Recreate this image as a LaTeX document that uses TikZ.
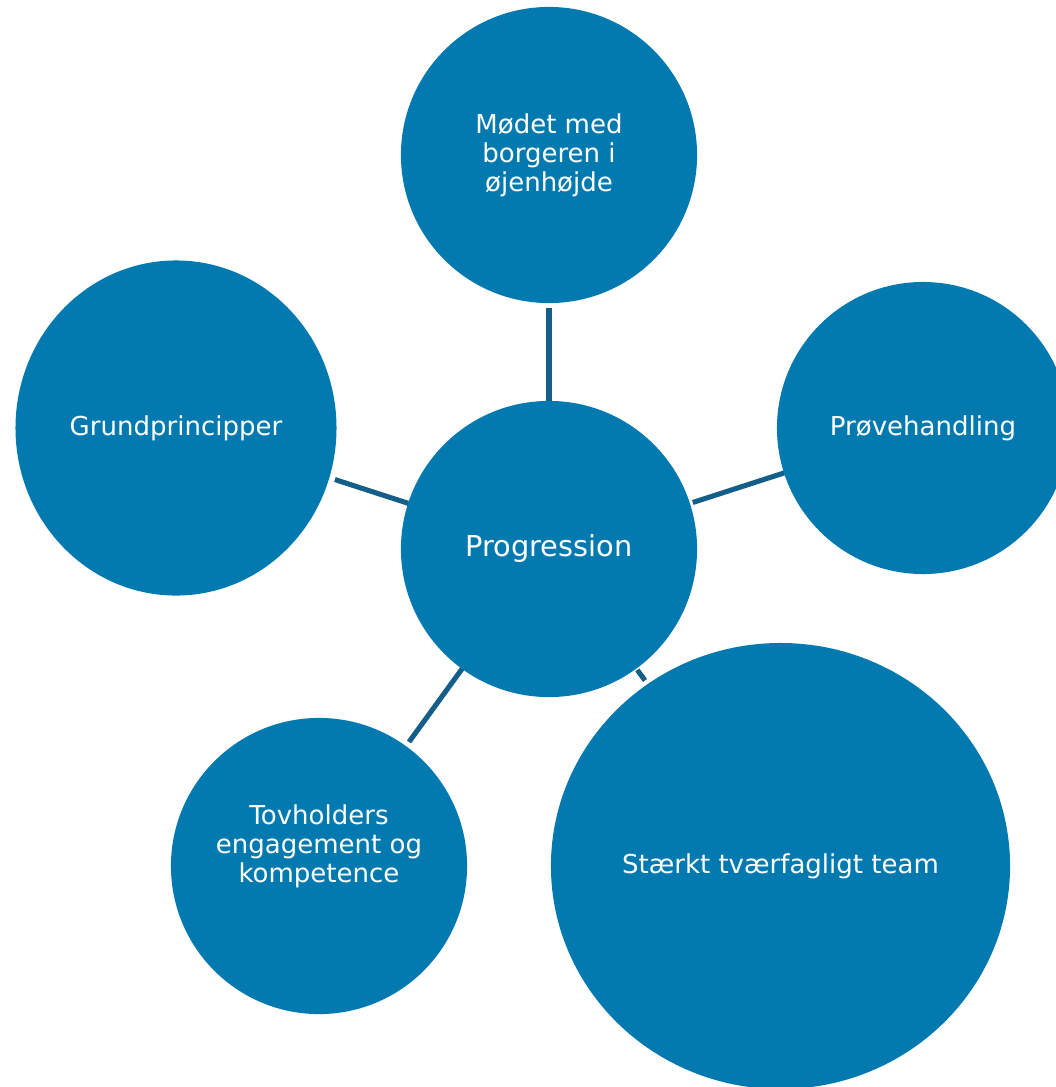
\documentclass[tikz,border=0pt]{standalone}
\usepackage{fontspec}
\setmainfont{DejaVu Sans}
\usepackage{tikz}
\usetikzlibrary{shapes.geometric}
\usetikzlibrary{backgrounds}

\begin{document}
\begin{tikzpicture}[x=0.025cm, y=-0.025cm,
        bubble/.style={circle, fill=bubbleblue, draw=none, inner sep=0pt, text=white, align=center, font=\fontsize{18.5}{20.6}\selectfont},
        link/.style={draw=linkblue, line width=3.6pt, shorten <=-1pt, shorten >=3.5pt}]
        \definecolor{bubbleblue}{RGB}{2,122,176}
        \definecolor{linkblue}{RGB}{20,94,138}
        % Fix the page to the reference size
        \useasboundingbox (0,0) rectangle (1055,1087);

        % Draw the centre bubble
        \node[bubble, minimum size=210.6pt, font=\fontsize{20.5}{24}\selectfont] (hub) at (549,549) {Progression};

        % Draw the outer bubbles
        \node[bubble, minimum size=210.6pt] (borger) at (549,155) {Mødet med\\borgeren i\\øjenhøjde};
        \node[bubble, ellipse, minimum width=228.3pt, minimum height=238.3pt] (grund) at (176,428) {Grundprincipper};
        \node[bubble, minimum size=207.7pt] (proeve) at (923,428) {Prøvehandling};
        \node[bubble, minimum size=210.6pt,
              label={[text=white, align=center, yshift=14.2pt, font=\fontsize{18.5}{20.6}\selectfont]center:Tovholders\\engagement og\\kompetence}] (tovh) at (319,866) {};
        \node[bubble, ellipse, minimum width=326.5pt, minimum height=317.2pt] (team) at (780.5,866) {Stærkt tværfagligt team};

        % Draw the connectors behind the bubbles
        \begin{scope}[on background layer]
            \draw[link] (hub) -- (borger);
            \draw[link, shorten >=4pt] (hub) -- (grund);
            \draw[link, shorten <=2pt, shorten >=-2pt] (hub) -- (proeve);
            \draw[link] (hub) -- (tovh);
            \draw[link, shorten <=1pt, shorten >=3pt] (hub) -- (team);
        \end{scope}
\end{tikzpicture}
\end{document}
